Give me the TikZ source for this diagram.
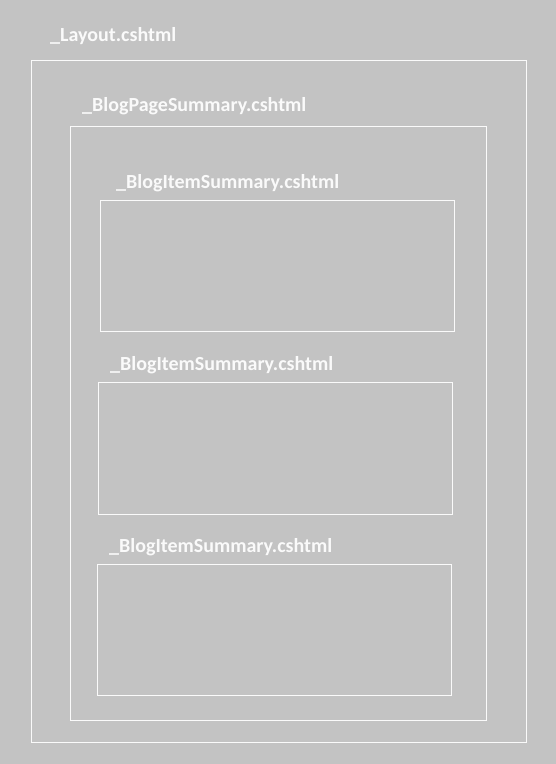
\documentclass[tikz,border=0pt]{standalone}
\usepackage{fontspec}
\setmainfont{Carlito}
\definecolor{bg}{HTML}{C3C3C3}
\definecolor{fg}{HTML}{FAFAFA}
\begin{document}
\begin{tikzpicture}[x=1pt,y=-1pt,
  frame/.style={draw=fg,line width=1pt},
  lbl/.style={anchor=base west,inner sep=0pt,text=fg,font=\fontsize{20}{24}\selectfont\bfseries}]
\fill[bg] (0,0) rectangle (556,764);
\useasboundingbox (0,0) rectangle (556,764);
\node[lbl] (l1) at (50,41) {\_Layout.cshtml};
\draw[frame] (31.5,60.5) rectangle (526.5,742.5);
\node[lbl] (l2) at (82,111) {\_BlogPageSummary.cshtml};
\draw[frame] (70.5,126.5) rectangle (486.5,720.5);
\node[lbl] (l3) at (116,188) {\_BlogItemSummary.cshtml};
\draw[frame] (100.5,200.5) rectangle (454.5,331.5);
\node[lbl] (l4) at (110,370) {\_BlogItemSummary.cshtml};
\draw[frame] (98.5,382.5) rectangle (452.5,514.5);
\node[lbl] (l5) at (109,552) {\_BlogItemSummary.cshtml};
\draw[frame] (97.5,564.5) rectangle (451.5,695.5);
\end{tikzpicture}
\end{document}
